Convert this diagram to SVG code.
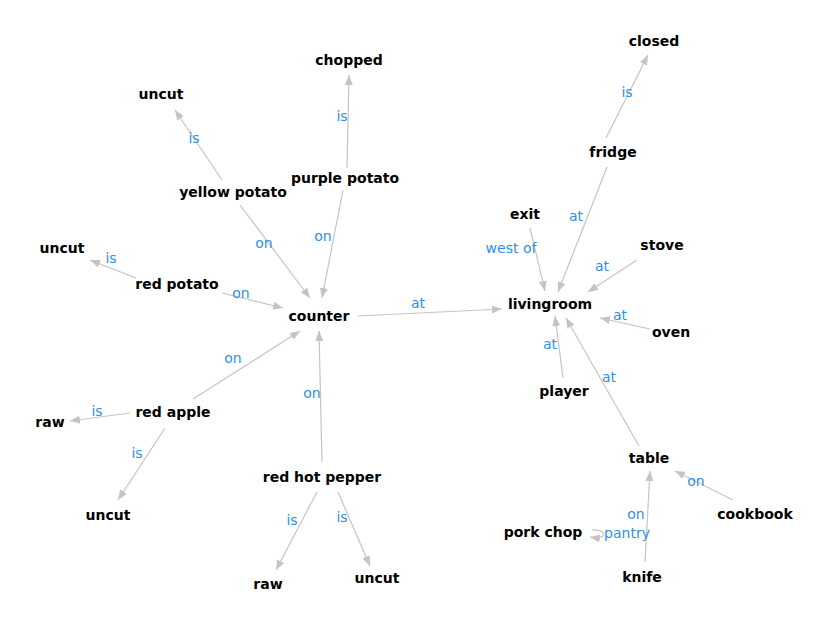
<svg xmlns="http://www.w3.org/2000/svg" width="830" height="628" viewBox="0 0 830 628">
<style>
.n{font-family:"DejaVu Sans",sans-serif;font-weight:bold;font-size:14px;fill:#000;text-anchor:middle}
.l{font-family:"DejaVu Sans",sans-serif;font-size:14px;fill:#2f8fe8;text-anchor:middle}
.e{stroke:#c4c4c4;stroke-width:1.2;fill:none;marker-end:url(#a)}
</style>
<defs><marker id="a" markerWidth="10" markerHeight="8" refX="10" refY="4" orient="auto" markerUnits="userSpaceOnUse"><path d="M0,0L10,4L0,8Z" fill="#c4c4c4"/></marker></defs>
<rect width="830" height="628" fill="#fff"/>
<g id="connectors">
<path class="e" d="M347,168L349,75"/><text class="l" x="342" y="121">is</text>
<path class="e" d="M222,180L175,110"/><text class="l" x="194" y="143">is</text>
<path class="e" d="M606,138L648,55"/><text class="l" x="627" y="97">is</text>
<path class="e" d="M240,205L310,298"/><text class="l" x="264" y="248">on</text>
<path class="e" d="M343,190L322,298"/><text class="l" x="323" y="241">on</text>
<path class="e" d="M136,278L90,260"/><text class="l" x="111" y="263">is</text>
<path class="e" d="M222,293L283,308"/><text class="l" x="241" y="298">on</text>
<path class="e" d="M358,316L502,309"/><text class="l" x="418" y="308">at</text>
<path class="e" d="M607,167L558,292"/><text class="l" x="576" y="221">at</text>
<path class="e" d="M530,228L545,291"/><text class="l" x="511" y="253">west of</text>
<path class="e" d="M637,260L588,292"/><text class="l" x="602" y="271">at</text>
<path class="e" d="M650,329L600,318"/><text class="l" x="620" y="320">at</text>
<path class="e" d="M563,378L555,316"/><text class="l" x="550" y="349">at</text>
<path class="e" d="M639,446L566,318"/><text class="l" x="609" y="382">at</text>
<path class="e" d="M193,399L300,331"/><text class="l" x="233" y="363">on</text>
<path class="e" d="M130,413L70,421"/><text class="l" x="97" y="416">is</text>
<path class="e" d="M165,428L118,500"/><text class="l" x="137" y="458">is</text>
<path class="e" d="M322,462L319,331"/><text class="l" x="312" y="398">on</text>
<path class="e" d="M317,492L276,570"/><text class="l" x="292" y="525">is</text>
<path class="e" d="M338,492L370,566"/><text class="l" x="342" y="522">is</text>
<path class="e" d="M733,500L675,471"/><text class="l" x="696" y="486">on</text>
<path class="e" d="M645,562L650,471"/><text class="l" x="636" y="519">on</text>
<path class="e" d="M592,530C600,529 606,533 603,536C600,538 596,538 590,537"/><text class="l" x="627" y="538">pantry</text>
</g>
<g id="n-chopped"><text class="n" x="349" y="65">chopped</text></g>
<g id="n-uncut1"><text class="n" x="161" y="99">uncut</text></g>
<g id="n-closed"><text class="n" x="654" y="46">closed</text></g>
<g id="n-yellowpotato"><text class="n" x="233" y="197">yellow potato</text></g>
<g id="n-purplepotato"><text class="n" x="345" y="183">purple potato</text></g>
<g id="n-fridge"><text class="n" x="613" y="157">fridge</text></g>
<g id="n-exit"><text class="n" x="525" y="219">exit</text></g>
<g id="n-stove"><text class="n" x="662" y="250">stove</text></g>
<g id="n-uncut2"><text class="n" x="62" y="253">uncut</text></g>
<g id="n-redpotato"><text class="n" x="177" y="289">red potato</text></g>
<g id="n-counter"><text class="n" x="319" y="321">counter</text></g>
<g id="n-livingroom"><text class="n" x="550" y="309">livingroom</text></g>
<g id="n-oven"><text class="n" x="671" y="337">oven</text></g>
<g id="n-redapple"><text class="n" x="173" y="417">red apple</text></g>
<g id="n-raw1"><text class="n" x="50" y="427">raw</text></g>
<g id="n-player"><text class="n" x="564" y="396">player</text></g>
<g id="n-table"><text class="n" x="649" y="463">table</text></g>
<g id="n-redhotpepper"><text class="n" x="322" y="482">red hot pepper</text></g>
<g id="n-cookbook"><text class="n" x="755" y="519">cookbook</text></g>
<g id="n-uncut3"><text class="n" x="108" y="520">uncut</text></g>
<g id="n-porkchop"><text class="n" x="543" y="537">pork chop</text></g>
<g id="n-knife"><text class="n" x="642" y="582">knife</text></g>
<g id="n-raw2"><text class="n" x="268" y="589">raw</text></g>
<g id="n-uncut4"><text class="n" x="377" y="583">uncut</text></g>
</svg>
